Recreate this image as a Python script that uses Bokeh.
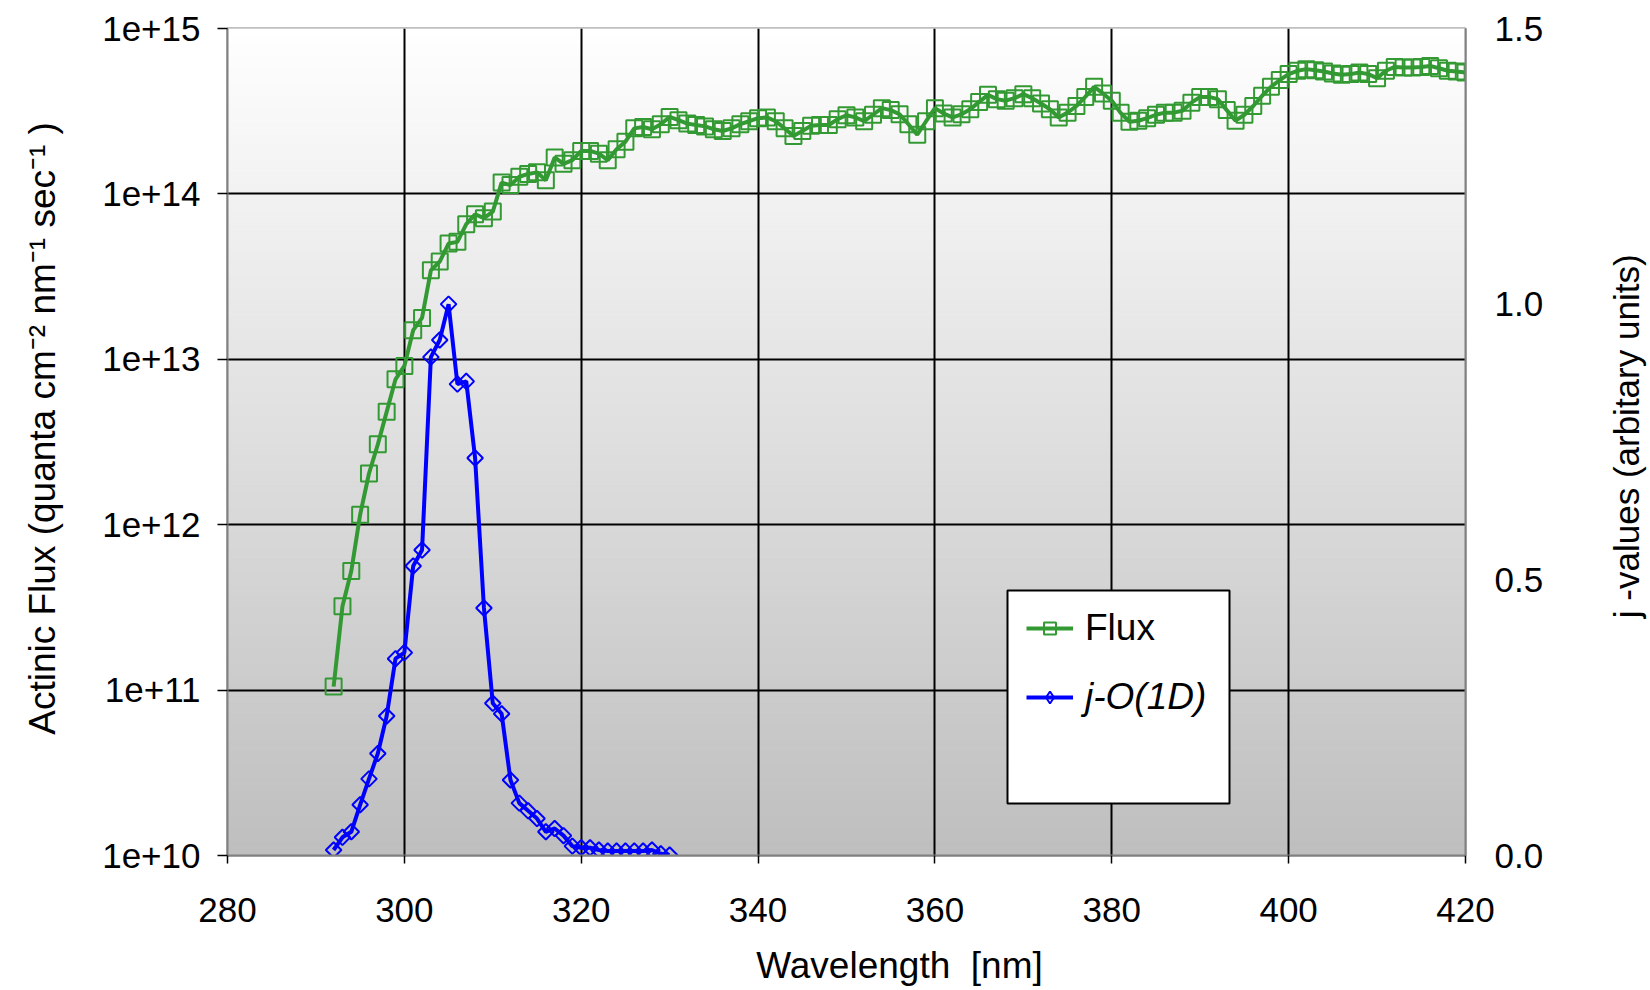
import math
import numpy as np
from bokeh.plotting import figure
from bokeh.layouts import column, row
from bokeh.models import (Range1d, LinearAxis, LinearScale, FixedTicker, PrintfTickFormatter,
                          Legend, LegendItem, BoxAnnotation)
from bokeh.core.properties import value
from bokeh.embed import file_html
from bokeh.resources import INLINE

# ---------------- data ----------------
wl_flux = list(range(292, 421))
flux = [
    1.05e11, 3.21e11, 5.25e11, 1.15e12, 2.04e12, 3.06e12, 4.81e12, 7.57e12, 9.12e12, 1.50e13,
    1.78e13, 3.45e13, 3.90e13, 5.01e13, 5.13e13, 6.56e13, 7.53e13, 7.13e13, 7.82e13, 1.17e14,
    1.13e14, 1.27e14, 1.32e14, 1.35e14, 1.21e14, 1.66e14, 1.52e14, 1.60e14, 1.82e14, 1.82e14,
    1.75e14, 1.60e14, 1.86e14, 2.07e14, 2.49e14, 2.54e14, 2.46e14, 2.64e14, 2.92e14, 2.79e14,
    2.66e14, 2.61e14, 2.56e14, 2.46e14, 2.40e14, 2.49e14, 2.64e14, 2.75e14, 2.87e14, 2.90e14,
    2.75e14, 2.49e14, 2.24e14, 2.40e14, 2.58e14, 2.61e14, 2.61e14, 2.83e14, 2.99e14, 2.90e14,
    2.75e14, 3.01e14, 3.30e14, 3.21e14, 3.03e14, 2.64e14, 2.28e14, 2.75e14, 3.30e14, 3.06e14,
    2.90e14, 3.03e14, 3.25e14, 3.60e14, 3.97e14, 3.74e14, 3.66e14, 3.79e14, 4.01e14, 3.79e14,
    3.52e14, 3.25e14, 2.90e14, 3.10e14, 3.40e14, 3.86e14, 4.44e14, 4.05e14, 3.66e14, 3.09e14,
    2.73e14, 2.77e14, 2.87e14, 3.01e14, 3.10e14, 3.10e14, 3.18e14, 3.56e14, 3.86e14, 3.86e14,
    3.74e14, 3.21e14, 2.77e14, 3.01e14, 3.40e14, 3.92e14, 4.44e14, 4.88e14, 5.30e14, 5.55e14,
    5.68e14, 5.60e14, 5.50e14, 5.35e14, 5.25e14, 5.30e14, 5.42e14, 5.30e14, 5.01e14, 5.55e14,
    5.86e14, 5.81e14, 5.81e14, 5.86e14, 5.94e14, 5.75e14, 5.55e14, 5.50e14, 5.42e14,
]
wl_j = list(range(292, 331))
j_o1d = [
    0.010, 0.033, 0.043, 0.092, 0.139, 0.185, 0.253, 0.357, 0.368, 0.525,
    0.554, 0.904, 0.935, 1.000, 0.855, 0.860, 0.721, 0.449, 0.276, 0.257,
    0.137, 0.095, 0.081, 0.067, 0.043, 0.049, 0.036, 0.017, 0.014, 0.014,
    0.010, 0.008, 0.008, 0.008, 0.008, 0.008, 0.010, 0.003, 0.001,
]
x_ticks = [280, 300, 320, 340, 360, 380, 400, 420]
y_ticks = [1e10, 1e11, 1e12, 1e13, 1e14, 1e15]
j_ticks = [0.0, 0.5, 1.0, 1.5]
x_title = "Wavelength \u00a0[nm]"
y_title = "Actinic Flux (quanta cm\u207b\u00b2 nm\u207b\u00b9 sec\u207b\u00b9 )"
y2_title = "j -values (arbitary units)"

GREEN = "#339933"
BLUE = "#0000ff"
GRAY = "#808080"
FONT = "Liberation Sans"

W, H = 1650, 990
STRIP_L = 80      # width of the left title strip
STRIP_R = 70      # width of the right title strip
STRIP_B = 45      # height of the bottom title strip
PW, PH = W - STRIP_L - STRIP_R, H - STRIP_B
FRAME_L, FRAME_R, FRAME_T, FRAME_B = 227, 1465, 28, 855   # page pixels

p = figure(width=PW, height=PH, x_range=Range1d(280, 420), y_range=Range1d(1e10, 1e15),
           y_axis_type="log", output_backend="svg", toolbar_location=None,
           min_border_left=FRAME_L - STRIP_L, min_border_right=PW - (FRAME_R - STRIP_L),
           min_border_top=FRAME_T, min_border_bottom=PH - FRAME_B,
           background_fill_color="white", border_fill_color="white")
p.extra_y_ranges = {"j": Range1d(0, 1.5)}
p.extra_y_scales = {"j": LinearScale()}
p.outline_line_color = GRAY
p.outline_line_width = 2

# gradient plot-area background (white at top to gray at bottom)
nb = 150
edges = np.linspace(0, 1.5, nb + 1)
shade = np.linspace(0xbf, 0xff, nb).astype(int)
cols = ["#%02x%02x%02x" % (s, s, s) for s in shade]
bg = p.quad(left=280, right=420, bottom=edges[:-1], top=edges[1:], fill_color=cols,
            line_color=cols, line_width=1, y_range_name="j")
bg.level = "image"

# grids
p.xgrid.ticker = FixedTicker(ticks=x_ticks)
p.ygrid.ticker = FixedTicker(ticks=y_ticks)
for g in (p.xgrid, p.ygrid):
    g.grid_line_color = "black"
    g.grid_line_width = 2
    g.grid_line_alpha = 1

# x axis
xa = p.xaxis[0]
xa.ticker = FixedTicker(ticks=x_ticks)
xa.major_tick_out = 8
xa.major_tick_in = 0
xa.minor_tick_line_color = None
xa.major_label_standoff = 34

# left axis
ya = p.yaxis[0]
ya.ticker = FixedTicker(ticks=y_ticks)
ya.formatter = PrintfTickFormatter(format="%.0e")
ya.major_tick_out = 10
ya.major_tick_in = 0
ya.minor_tick_line_color = None
ya.major_label_standoff = 17

# right axis
ra = LinearAxis(y_range_name="j", ticker=FixedTicker(ticks=j_ticks),
                formatter=PrintfTickFormatter(format="%.1f"))
ra.major_tick_out = 0
ra.major_tick_in = 0
ra.minor_tick_line_color = None
ra.major_label_standoff = 29
p.add_layout(ra, "right")

for ax in (xa, ya, ra):
    ax.axis_line_color = GRAY
    ax.axis_line_width = 2
    ax.major_tick_line_color = "black"
    ax.major_tick_line_width = 1.5
    ax.major_label_text_font = FONT
    ax.major_label_text_font_size = "35px"
    ax.major_label_text_color = "black"

# data
fl = p.line(wl_flux, flux, line_color=GREEN, line_width=4)
fm = p.scatter(wl_flux, flux, marker="square", size=16, fill_color=None,
               line_color=GREEN, line_width=2)
jl = p.line(wl_j, j_o1d, line_color=BLUE, line_width=4, y_range_name="j")
jm = p.scatter(wl_j, j_o1d, marker="square", angle=np.pi / 4, size=11, fill_color=None,
               line_color=BLUE, line_width=2, y_range_name="j")
# diamond swatch for the legend only: a single point placed below the visible range
jd = p.scatter(x=wl_j[:1], y=[-1.0], marker="diamond", size=17, fill_color=None,
               line_color=BLUE, line_width=2, y_range_name="j")

# legend box and entries
box = BoxAnnotation(left=780, right=1002, bottom=52, top=265,
                    left_units="screen", right_units="screen",
                    bottom_units="screen", top_units="screen",
                    fill_color="white", fill_alpha=1, line_color="black",
                    line_width=2, line_alpha=1)
p.add_layout(box)


def make_legend(label, rends, loc, style):
    return Legend(items=[LegendItem(label=label, renderers=rends)], location=loc,
                  margin=0, padding=0, spacing=0, glyph_width=47, glyph_height=30,
                  label_standoff=12, label_text_font=FONT, label_text_font_size="37px",
                  label_text_font_style=style, label_text_color="black",
                  border_line_alpha=0, background_fill_alpha=0)


p.add_layout(make_legend("Flux", [fl, fm], (799, 206), "normal"))
p.add_layout(make_legend("j-O(1D)", [jl, jd], (799, 137), "italic"))


def strip(w, h):
    s = figure(width=w, height=h, x_range=Range1d(0, w), y_range=Range1d(0, h),
               output_backend="svg", toolbar_location=None,
               x_axis_location=None, y_axis_location=None,
               min_border_left=0, min_border_right=0, min_border_top=0, min_border_bottom=0,
               background_fill_color="white", border_fill_color="white")
    s.outline_line_color = None
    s.xgrid.visible = False
    s.ygrid.visible = False
    return s


# left strip: primary-axis title, reading bottom to top
sl = strip(STRIP_L, PH)
sl.text(x=[42], y=[PH - 457], text=[y_title], angle=math.pi / 2,
        text_align="center", text_baseline="middle", text_font=value(FONT),
        text_font_size="37px", text_color="black")

# right strip: secondary-axis title, reading bottom to top
sr = strip(STRIP_R, PH)
sr.text(x=[STRIP_R - 24], y=[PH - 466], text=[y2_title], angle=math.pi / 2,
        text_align="center", text_baseline="middle", text_font=value(FONT),
        text_font_size="35px", text_color="black")

# bottom strip: x-axis title (off-centre, as in the reference)
sb = strip(W, STRIP_B)
sb.text(x=[899], y=[STRIP_B - 20], text=[x_title], text_align="center",
        text_baseline="middle", text_font=value(FONT), text_font_size="37px",
        text_color="black")

layout = column(row(sl, p, sr, spacing=0), sb, spacing=0)
open("out.html", "w").write(file_html(layout, INLINE))
